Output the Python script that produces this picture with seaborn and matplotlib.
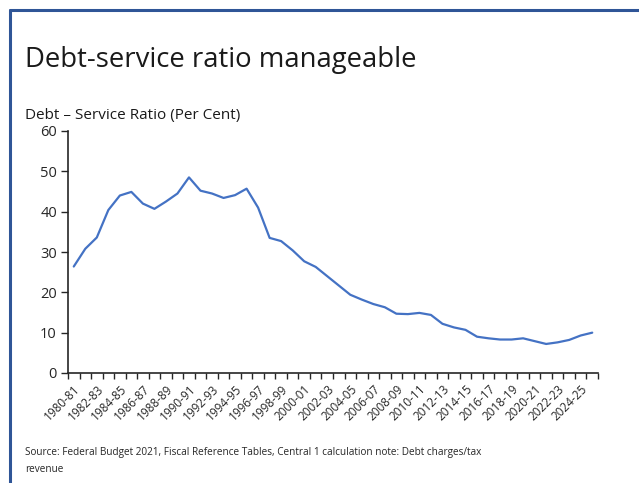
import matplotlib
matplotlib.use('Agg')

import matplotlib.pyplot as plt
import seaborn as sns
import pandas as pd
from matplotlib.lines import Line2D

# data
years = [1980 + i for i in range(46)]
fiscal_years = [f"{y}-{str(y + 1)[-2:]}" for y in years]
ratio = [26.4, 30.8, 33.6, 40.4, 44.0, 44.9, 42.0, 40.7, 42.5, 44.5,
         48.5, 45.2, 44.5, 43.4, 44.1, 45.7, 41.0, 33.5, 32.7, 30.4,
         27.7, 26.3, 24.0, 21.7, 19.4, 18.2, 17.1, 16.3, 14.7, 14.6,
         14.9, 14.4, 12.2, 11.3, 10.7, 9.0, 8.6, 8.3, 8.3, 8.6,
         7.9, 7.2, 7.6, 8.2, 9.3, 10.0]
y_ticks = [0, 10, 20, 30, 40, 50, 60]

df = pd.DataFrame({"pos": range(len(fiscal_years)), "year": fiscal_years, "ratio": ratio})

sns.set_style("white")
plt.rcParams['font.family'] = ['Open Sans', 'DejaVu Sans']

fig = plt.figure(figsize=(6.39, 4.83), dpi=100)
ax = fig.add_axes([68 / 639, 1 - 373 / 483, 530 / 639, 242 / 483])

sns.lineplot(data=df, x="pos", y="ratio", color="#4472C4", linewidth=1.6, ax=ax)

ax.set_xlim(-0.5, len(fiscal_years) - 0.5)
ax.set_ylim(0, 60)
ax.set_yticks(y_ticks)
ax.set_xticks(range(0, len(fiscal_years), 2))
ax.set_xticklabels(fiscal_years[::2], rotation=45, ha="right", rotation_mode="anchor",
                   fontsize=8.5, color="#262626")
ax.set_xticks([i - 0.5 for i in range(len(fiscal_years) + 1)], minor=True)
ax.tick_params(axis="x", which="major", bottom=True, length=0, pad=7)
ax.tick_params(axis="x", which="minor", bottom=True, length=4, width=1, color="#262626", direction="out")
ax.tick_params(axis="y", left=True, length=5, width=1, color="#262626", labelsize=10.5,
               labelcolor="#262626", pad=3, direction="out")
ax.set_xlabel("")
ax.set_ylabel("")

for side in ["top", "right"]:
    ax.spines[side].set_visible(False)
for side in ["left", "bottom"]:
    ax.spines[side].set_color("#262626")
    ax.spines[side].set_linewidth(1.2)

# titles and notes
fig.text(25 / 639, 1 - 60 / 483, "Debt-service ratio manageable", fontsize=19.8, color="#1a1a1a", va="center")
fig.text(25 / 639, 1 - 115 / 483, "Debt \u2013 Service Ratio (Per Cent)", fontsize=11, color="#1a1a1a", va="center")
fig.text(25 / 639, 1 - 453 / 483, "Source: Federal Budget 2021, Fiscal Reference Tables, Central 1 calculation note: Debt charges/tax",
         fontsize=7.2, color="#262626", va="center")
fig.text(25 / 639, 1 - 469 / 483, "revenue", fontsize=7.2, color="#262626", va="center")

# slide frame
fig.add_artist(Line2D([10 / 639, 1], [1 - 10 / 483, 1 - 10 / 483], color="#2F5597", linewidth=2.2))
fig.add_artist(Line2D([10 / 639, 10 / 639], [0, 1 - 10 / 483], color="#2F5597", linewidth=2.2))

fig.savefig("out.png", dpi=100)
plt.close()
